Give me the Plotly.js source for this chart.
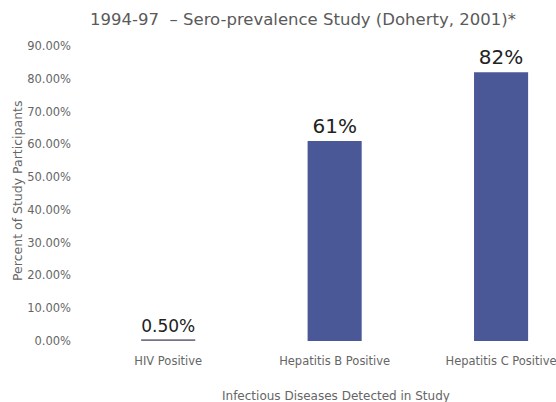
<!DOCTYPE html>
<html>
<head>
<meta charset="utf-8">
<script src="https://cdn.plot.ly/plotly-3.0.1.min.js"></script>
<style>
  html, body { margin: 0; padding: 0; background: #fff; }
  #chart { width: 556px; height: 402px; }
</style>
</head>
<body>
<div id="chart"></div>
<script>
// categories and values
const diseases = ['HIV Positive', 'Hepatitis B Positive', 'Hepatitis C Positive'];
const prevalence = [0.005, 0.61, 0.82];
const barLabels = ['0.50%', '61%', '82%'];
const yTicks = [0, 0.1, 0.2, 0.3, 0.4, 0.5, 0.6, 0.7, 0.8, 0.9];

const font = 'DejaVu Sans, Verdana, sans-serif';

const trace = {
    type: 'bar',
    x: diseases,
    y: prevalence,
    text: barLabels,
    textposition: 'outside',
    cliponaxis: false,
    textfont: { family: font, size: 20, color: '#222' },
    width: 0.325,
    marker: { color: ['#74748a', '#4b5898', '#4b5898'] },
    hoverinfo: 'none'
};

const layout = {
    width: 556,
    height: 402,
    margin: { l: 85, r: 0, t: 46, b: 61, pad: 0 },
    paper_bgcolor: '#fff',
    plot_bgcolor: '#fff',
    showlegend: false,
    font: { family: font, color: '#666' },
    title: {
        text: '1994-97  \u2013 Sero-prevalence Study (Doherty, 2001)*',
        font: { family: font, size: 16.5, color: '#5a5a5a' },
        x: 303 / 556, xanchor: 'center',
        y: 1 - 19 / 402, yanchor: 'middle'
    },
    xaxis: {
        type: 'category',
        range: [-0.5, 2.33],
        showgrid: false,
        zeroline: false,
        showline: false,
        ticks: '',
        tickfont: { family: font, size: 11.5, color: '#666' },
        ticklabelstandoff: 11
    },
    yaxis: {
        range: [0, 0.9],
        tickvals: yTicks,
        tickformat: '.2%',
        showgrid: false,
        zeroline: false,
        showline: false,
        ticks: '',
        ticklabelstandoff: 13,
        tickfont: { family: font, size: 11.5, color: '#666' }
    },
    annotations: [
        {
            text: 'Infectious Diseases Detected in Study',
            xref: 'paper', yref: 'paper',
            x: (336 - 85) / 471, y: -55 / 295,
            xanchor: 'center', yanchor: 'middle',
            showarrow: false,
            font: { family: font, size: 12, color: '#666' }
        },
        {
            text: 'Percent of Study Participants',
            xref: 'paper', yref: 'paper',
            x: -68 / 471, y: (341 - 191) / 295,
            xanchor: 'center', yanchor: 'middle',
            textangle: -90,
            showarrow: false,
            font: { family: font, size: 12.5, color: '#666' }
        }
    ]
};

Plotly.newPlot('chart', [trace], layout, { displayModeBar: false, staticPlot: true });
</script>
</body>
</html>
